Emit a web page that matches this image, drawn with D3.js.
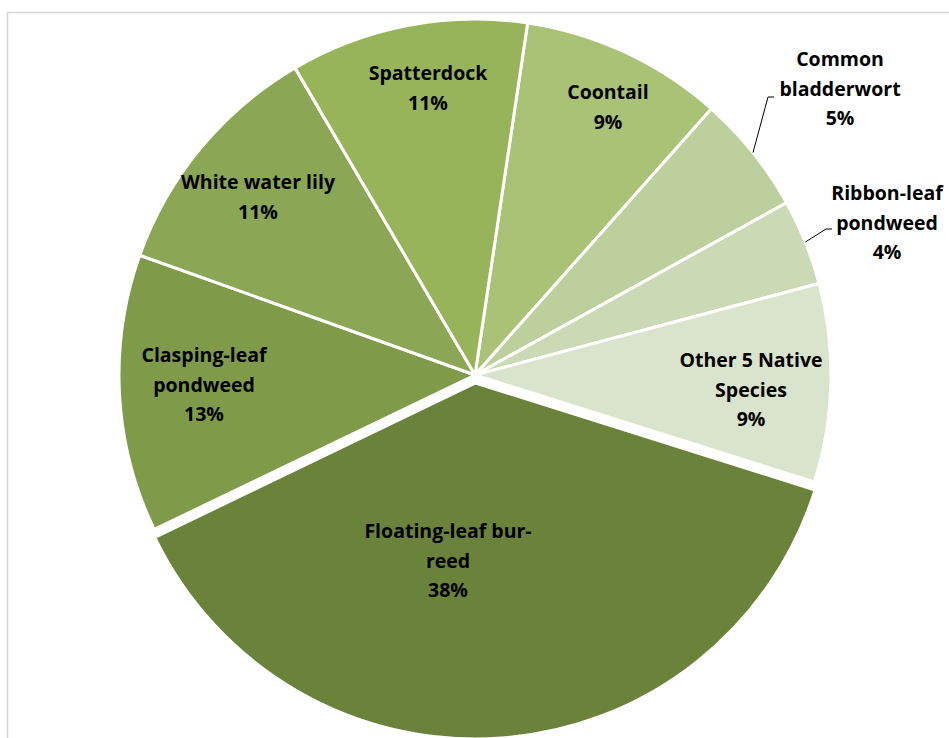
<!DOCTYPE html>
<html>
<head>
<meta charset="utf-8">
<script src="https://cdn.jsdelivr.net/npm/d3@7"></script>
<style>
  html, body { margin: 0; padding: 0; background: #fff; }
  svg { display: block; }
</style>
</head>
<body>
<svg id="chart" width="949" height="738"></svg>
<script>
// ---- data ----
const categories = ["Coontail", "Common bladderwort", "Ribbon-leaf pondweed", "Other 5 Native Species",
                    "Floating-leaf bur-reed", "Clasping-leaf pondweed", "White water lily", "Spatterdock"];
const values = [9.2, 5.4, 3.9, 9.0, 38.0, 12.6, 11.1, 10.8];
const labelLines = [
  ["Coontail"],
  ["Common", "bladderwort"],
  ["Ribbon-leaf", "pondweed"],
  ["Other 5 Native", "Species"],
  ["Floating-leaf bur-", "reed"],
  ["Clasping-leaf", "pondweed"],
  ["White water lily"],
  ["Spatterdock"]
];
const colors = ["#a9c276", "#bccf9c", "#cbd9b4", "#dae3cb", "#6b823b", "#7f9a48", "#8ba654", "#98b45a"];

// ---- layout ----
const W = 949, H = 738;
const cx = 475, cy = 375, R = 356;
const startDeg = 8.5;
const explode = [0, 0, 0, 0, 8, 0, 0, 0];
// label anchor (center x, first baseline y) in page coordinates
const labelPos = [[608, 99], [840, 66], [887, 200], [751, 367], [448, 538], [204, 362], [258, 189], [428, 80]];
const lineH = 29.5;

const svg = d3.select("#chart");

// frame
svg.append("rect").attr("x", 7.5).attr("y", 12.5).attr("width", W + 10).attr("height", H + 10)
  .attr("fill", "#fff").attr("stroke", "#d4d4d4").attr("stroke-width", 1.5);

const pie = d3.pie().sort(null).value(d => d)
  .startAngle(startDeg * Math.PI / 180)
  .endAngle(startDeg * Math.PI / 180 + 2 * Math.PI);
const arcs = pie(values);
const arc = d3.arc().innerRadius(0).outerRadius(R);

const g = svg.append("g").attr("transform", `translate(${cx},${cy})`);

g.selectAll("path.slice").data(arcs).join("path")
  .attr("class", "slice")
  .attr("d", arc)
  .attr("fill", (d, i) => colors[i])
  .attr("stroke", "#fff")
  .attr("stroke-width", 3)
  .attr("stroke-linejoin", "round")
  .attr("transform", (d, i) => {
    const a = (d.startAngle + d.endAngle) / 2;
    return `translate(${Math.sin(a) * explode[i]},${-Math.cos(a) * explode[i]})`;
  });

// leader lines for the two small outer labels
const leaders = [
  {i: 1, frac: 0.5, elbow: [768, 97], end: [774, 97]},
  {i: 2, frac: 0.5, elbow: [826, 229], end: [832, 229]}
];
leaders.forEach(l => {
  const d = arcs[l.i];
  const a = d.startAngle + (d.endAngle - d.startAngle) * l.frac;
  const p0 = [cx + Math.sin(a) * R, cy - Math.cos(a) * R];
  svg.append("path")
    .attr("d", d3.line()([p0, l.elbow, l.end]))
    .attr("fill", "none").attr("stroke", "#000").attr("stroke-width", 1);
});

// labels
const fmt = v => Math.round(v) + "%";
arcs.forEach((d, i) => {
  const lines = labelLines[i].concat([fmt(values[i])]);
  const t = svg.append("text")
    .attr("x", labelPos[i][0]).attr("y", labelPos[i][1])
    .attr("text-anchor", "middle")
    .attr("font-family", "'Open Sans', sans-serif")
    .attr("font-weight", "bold")
    .attr("font-size", 19.5)
    .attr("fill", "#000");
  lines.forEach((s, k) => {
    t.append("tspan").attr("x", labelPos[i][0]).attr("dy", k === 0 ? 0 : lineH).text(s);
  });
});
</script>
</body>
</html>
